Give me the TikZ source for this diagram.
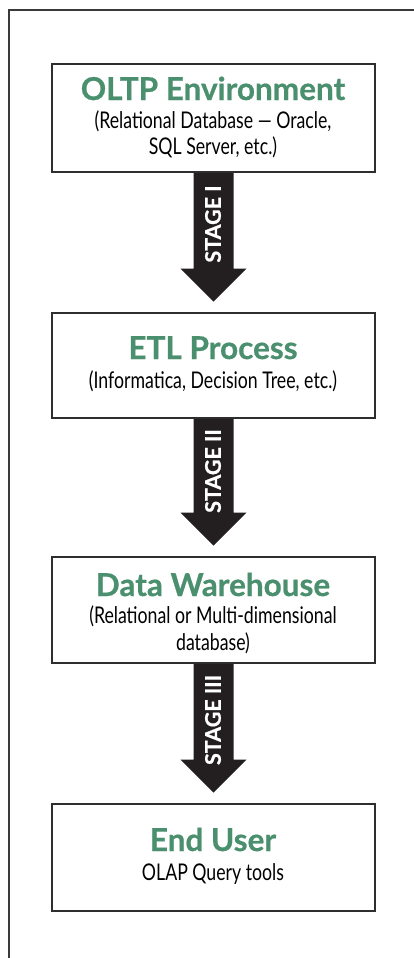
\documentclass[tikz,border=0pt]{standalone}
\usepackage{fontspec}
\setmainfont{Lato}
\newfontfamily\condfont[FakeStretch=0.77]{Lato}
\newfontfamily\heavyfont[BoldFeatures={FakeBold=0.8}]{Lato}
\newfontfamily\titlefont[BoldFeatures={FakeBold=0.6}]{Lato}
\usetikzlibrary{calc}
\definecolor{titlegreen}{HTML}{4A8F6E}
\definecolor{boxline}{HTML}{2E2E2E}
\definecolor{framegray}{HTML}{3A3A3A}
\definecolor{arrowfill}{HTML}{231F20}
\tikzset{
  frame/.style={draw=framegray, line width=2pt},
  box/.style={draw=boxline, line width=2.6pt, fill=white, rectangle, inner sep=0pt, minimum width=323pt},
  ttl/.style={anchor=base, inner sep=0pt, text=titlegreen, font=\fontsize{31.5}{32}\selectfont\titlefont\bfseries},
  sub/.style={anchor=base, inner sep=0pt, text=black, font=\fontsize{23}{26}\selectfont\condfont},
  stagelbl/.style={inner sep=0pt, text=white, rotate=90, font=\fontsize{21.5}{22}\selectfont\heavyfont\bfseries},
  blockarrow/.style={fill=arrowfill, draw=none}
}
\begin{document}
\begin{tikzpicture}[x=1pt,y=-1pt]
\useasboundingbox (0,0) rectangle (414,958);
\draw[frame] (9,958) -- (9,10) -- (415,10);

% boxes
\node[box, minimum height=108pt] (b1) at (213.5,118) {};
\node[box, minimum height=105pt] (b2) at (213.5,365.5) {};
\node[box, minimum height=106pt] (b3) at (213.5,610) {};
\node[box, minimum height=107pt] (b4) at (213.5,857.5) {};

% arrows
\foreach \a/\b/\n in {b1/b2/1, b2/b3/2, b3/b4/3}{
  \coordinate (tip\n) at ($(\b.north)+(0,-10)$);
  \fill[blockarrow] ($(\a.south)+(-20,-1)$) -- ($(tip\n)+(-20,-33)$) -- ($(tip\n)+(-33,-33)$) -- (tip\n)
     -- ($(tip\n)+(33,-33)$) -- ($(tip\n)+(20,-33)$) -- ($(\a.south)+(20,-1)$) -- cycle;
}
\node[box, minimum height=108pt] at (b1) {};
\node[box, minimum height=105pt] at (b2) {};
\node[box, minimum height=106pt] at (b3) {};
\node[box, minimum height=107pt] at (b4) {};

% stage labels
\node[stagelbl] (s1) at (213,224) {STAGE I};
\node[stagelbl] (s2) at (213,471) {STAGE II};
\node[stagelbl] (s3) at (213,720) {STAGE III};

% texts
\node[ttl] (t1) at (213,100) {OLTP Environment};
\node[sub] (u1a) at (213,128) {(Relational Database \textemdash{} Oracle,};
\node[sub] (u1b) at (213,154) {SQL Server, etc.)};

\node[ttl] (t2) at (213,359) {ETL Process};
\node[sub] (u2) at (213,388) {(Informatica, Decision Tree, etc.)};

\node[ttl] (t3) at (213,596) {Data Warehouse};
\node[sub] (u3a) at (213,623) {(Relational or Multi-dimensional};
\node[sub] (u3b) at (213,650) {database)};

\node[ttl] (t4) at (213,851) {End User};
\node[sub] (u4) at (213,880) {OLAP Query tools};
\end{tikzpicture}
\end{document}
